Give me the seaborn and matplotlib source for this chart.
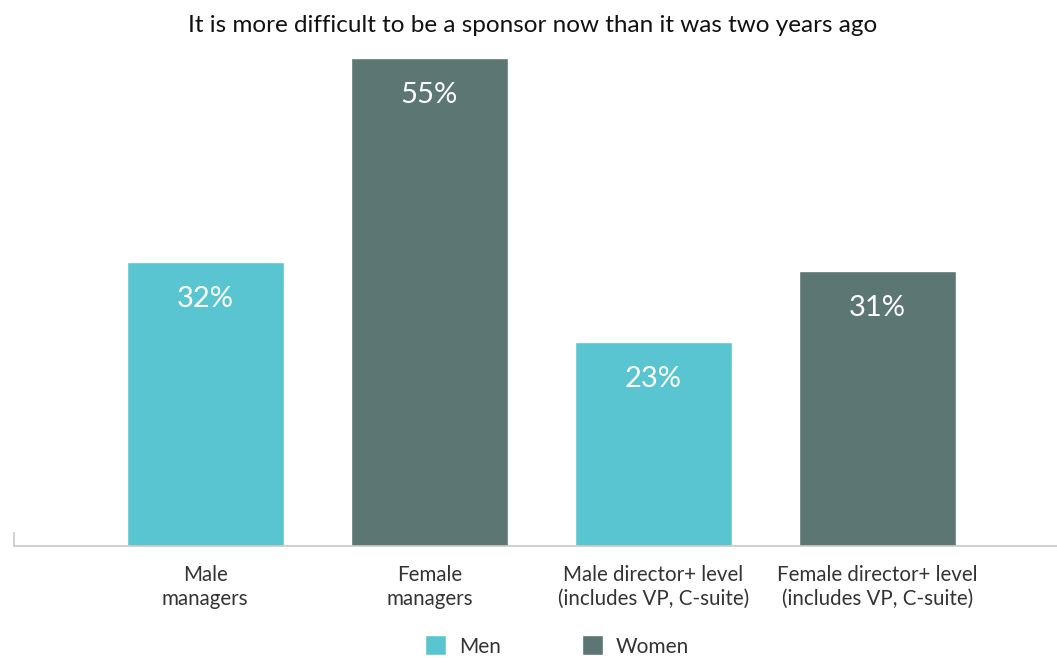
import pandas as pd
import matplotlib.pyplot as plt
import seaborn as sns
from matplotlib.patches import Patch

# Chart data
categories = ['Male\nmanagers', 'Female\nmanagers',
              'Male director+ level\n(includes VP, C-suite)',
              'Female director+ level\n(includes VP, C-suite)']
groups = ['Men', 'Women', 'Men', 'Women']
values = [32, 55, 23, 31]

colors = {'Men': '#58C5D0', 'Women': '#5B7673'}

df = pd.DataFrame({'category': categories, 'group': groups, 'value': values})

sns.set_style('white')
plt.rcParams['font.family'] = ['Lato', 'DejaVu Sans']

fig = plt.figure(figsize=(10.57, 6.58), dpi=100)
ax = fig.add_axes([14 / 1057, 112 / 658, 1 - 14 / 1057, 488 / 658])

sns.barplot(data=df, x='category', y='value', hue='group', palette=colors,
            dodge=False, width=0.7, ax=ax, legend=False, saturation=1)

ax.set_xlim(-0.853, 3.80)
ax.set_ylim(0, 55)
for p in ax.patches:
    p.set_clip_on(False)

# value labels inside bars
for i, v in enumerate(values):
    ax.text(i, v - 4.2, f'{v}%', ha='center', va='center', color='white', fontsize=21)

ax.set_xlabel('')
ax.set_ylabel('')
ax.set_yticks([])
ax.tick_params(axis='x', length=0, labelsize=14.8, labelcolor='#333333', pad=14)
for lbl in ax.get_xticklabels():
    lbl.set_linespacing(1.22)
for s in ['top', 'right']:
    ax.spines[s].set_visible(False)
ax.spines['bottom'].set_color('#c8c8c8')
ax.spines['left'].set_color('#c8c8c8')
ax.spines['bottom'].set_linewidth(1.2)
ax.spines['left'].set_linewidth(1.2)
ax.spines['left'].set_bounds(0, 1.5)

fig.suptitle('It is more difficult to be a sponsor now than it was two years ago',
             x=533 / 1057, y=1 - 25 / 658, va='center', fontsize=17.5, color='#111111')

handles = [Patch(facecolor=colors['Men'], label='Men'),
           Patch(facecolor=colors['Women'], label='Women')]
fig.legend(handles=handles, loc='center', bbox_to_anchor=(557 / 1057, 1 - 646 / 658),
           ncol=2, frameon=False, fontsize=15, handlelength=1.0, handleheight=1.1,
           columnspacing=3.9, handletextpad=0.6, labelcolor='#333333')

fig.savefig('out.png', dpi=100)
